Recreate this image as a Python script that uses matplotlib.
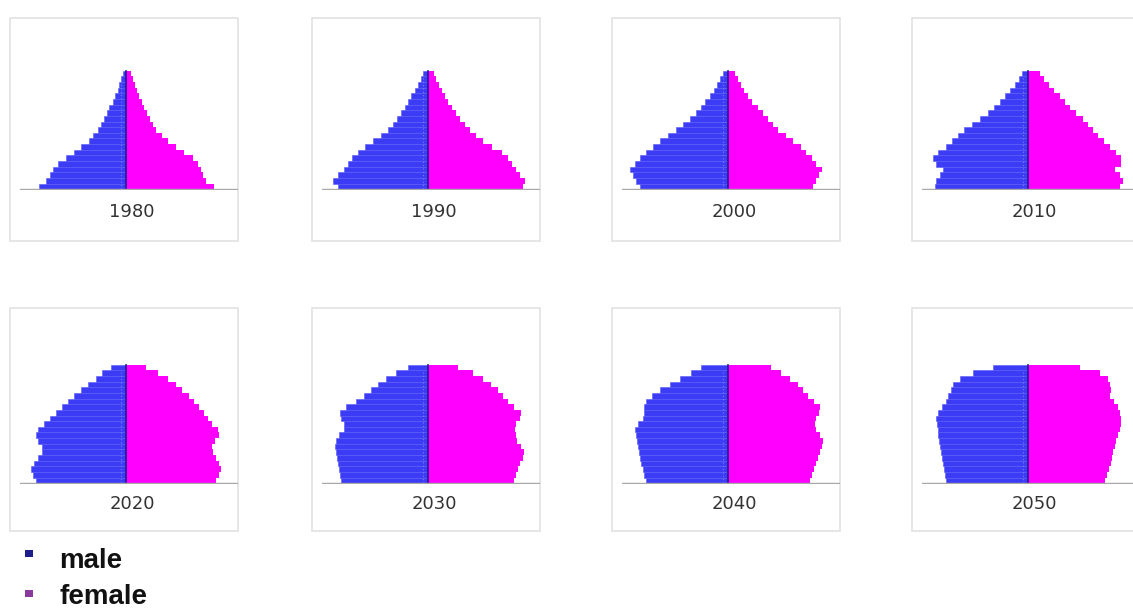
import numpy as np
import matplotlib.pyplot as plt
from matplotlib.patches import Rectangle

# Population pyramids by projection year, 21 five-year age groups (0-4 ... 100+)
years = ['1980', '1990', '2000', '2010', '2020', '2030', '2040', '2050']

male = [
    [87, 80, 76, 73, 68, 60, 52, 45, 37, 33, 28, 25, 22, 19, 17, 13, 11, 8, 7, 5, 3.5],
    [90, 95, 90, 84, 80, 76, 70, 63, 55, 47, 40, 35, 31, 27, 23, 20, 17, 13, 10, 7, 5],
    [88, 92, 95, 98, 93, 88, 82, 75, 68, 60, 52, 45, 38, 32, 27, 23, 18, 14, 11, 8, 5],
    [93, 92, 88, 85, 92, 95, 90, 82, 76, 70, 64, 56, 48, 40, 34, 28, 23, 18, 13, 9, 6],
    [90, 93, 95, 92, 88, 84, 84, 88, 90, 88, 82, 76, 70, 64, 58, 52, 45, 38, 30, 24, 15],
    [87, 88, 89, 90, 91, 92, 93, 92, 89, 84, 84, 87, 88, 82, 72, 64, 57, 50, 42, 32, 20],
    [82, 84, 85, 87, 88, 89, 90, 91, 92, 93, 90, 85, 84, 84, 82, 76, 68, 58, 48, 37, 27],
    [82, 83, 84, 85, 86, 87, 88, 89, 90, 90, 91, 92, 90, 86, 82, 80, 77, 75, 68, 55, 35],
]

female = [
    [88, 80, 77, 75, 72, 67, 58, 50, 42, 36, 30, 27, 24, 21, 18, 16, 13, 11, 9, 7, 5],
    [95, 97, 92, 88, 84, 80, 74, 64, 55, 48, 42, 37, 32, 28, 24, 20, 17, 14, 11, 8, 6],
    [85, 88, 91, 94, 88, 84, 78, 73, 65, 58, 50, 45, 40, 35, 30, 24, 20, 16, 13, 10, 7],
    [92, 95, 92, 87, 93, 93, 88, 82, 76, 70, 65, 60, 55, 48, 42, 37, 32, 26, 21, 16, 12],
    [90, 93, 95, 93, 90, 87, 86, 89, 93, 92, 86, 82, 78, 73, 68, 63, 56, 50, 42, 32, 20],
    [86, 88, 90, 92, 95, 96, 93, 89, 88, 87, 88, 92, 93, 86, 80, 75, 70, 63, 55, 45, 30],
    [82, 84, 86, 88, 90, 92, 94, 95, 92, 88, 87, 88, 91, 92, 86, 80, 75, 70, 62, 53, 43],
    [77, 79, 81, 83, 84, 85, 87, 88, 90, 92, 93, 93, 92, 90, 86, 82, 83, 82, 80, 72, 52],
]

W, H = 1133, 609
fig = plt.figure(figsize=(W / 100, H / 100), dpi=100)
fig.patch.set_facecolor('white')

def fx(px):
    return px / W

def fy(py):
    return 1 - py / H

panel_left = [10, 312, 612, 912]
panel_top = [18, 308]
male_color = '#3c3cf6'
female_color = '#ff00ff'

for k, year in enumerate(years):
    L = panel_left[k % 4]
    T = panel_top[k // 4]

    # panel frame
    fig.add_artist(Rectangle((fx(L), fy(T + 223)), 228 / W, 223 / H,
                             transform=fig.transFigure, facecolor='white',
                             edgecolor='#e2e2e2', linewidth=1.2, zorder=0))

    base = T + 172 if k < 4 else T + 176
    ax = fig.add_axes([fx(L + 10), fy(base), 218 / W, 120 / H])
    ages = np.arange(len(male[k]))
    ax.barh(ages, -np.array(male[k]), height=1.0, color=male_color,
            edgecolor='#5858f8', linewidth=0.4)
    ax.barh(ages, female[k], height=1.0, color=female_color, linewidth=0)
    ax.plot([0, 0], [-0.5, 20.5], color='#1c1c90', lw=1.2)
    ax.plot([-5, -5], [-0.5, 19.5], color='#7a7aff', lw=0.8, ls=(0, (1, 2)))
    ax.axhline(-0.5, color='#a8a8a8', lw=1.0)
    ax.set_xlim(-106, 112)
    ax.set_ylim(-0.6, 20.6)
    ax.axis('off')

    label_y = T + 194 if k < 4 else T + 196
    fig.text(fx(L + 122), fy(label_y), year, ha='center', va='center',
             fontsize=13, color='#333333')

# legend
fig.add_artist(Rectangle((fx(25), fy(557)), 8 / W, 7 / H, transform=fig.transFigure,
                         facecolor='#1e1e8a', edgecolor='none'))
fig.add_artist(Rectangle((fx(25), fy(597)), 8 / W, 7 / H, transform=fig.transFigure,
                         facecolor='#8a3a9a', edgecolor='none'))
fig.text(fx(59), fy(568), 'male', ha='left', va='baseline', fontsize=20,
         fontweight='bold', color='#111111', family='Liberation Sans')
fig.text(fx(59), fy(604), 'female', ha='left', va='baseline', fontsize=20,
         fontweight='bold', color='#111111', family='Liberation Sans')

fig.savefig('out.png', dpi=100)
